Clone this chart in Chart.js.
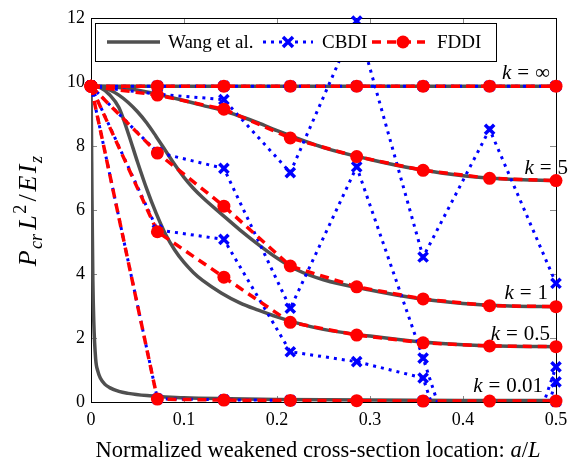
<!DOCTYPE html>
<html>
<head>
<meta charset="utf-8">
<script src="https://cdn.jsdelivr.net/npm/chart.js@4.4.0/dist/chart.umd.min.js"></script>
<style>
  html, body { margin: 0; padding: 0; background: #fff; }
  #wrap { width: 579px; height: 471px; }
</style>
</head>
<body>
<div id="wrap"><canvas id="chart" width="579" height="471"></canvas></div>
<script>
// weakened cross-section positions a/L used by the discrete models
const aL = [0, 0.0714, 0.1429, 0.2143, 0.2857, 0.3571, 0.4286, 0.5];

// FDDI buckling loads
const fddiInf = [9.87, 9.87, 9.87, 9.87, 9.87, 9.87, 9.87, 9.87];
const fddi5   = [9.87, 9.59, 9.15, 8.25, 7.67, 7.24, 6.99, 6.92];
const fddi1   = [9.87, 7.78, 6.12, 4.25, 3.60, 3.22, 3.01, 2.98];
const fddi05  = [9.87, 5.32, 3.90, 2.49, 2.09, 1.85, 1.75, 1.73];
const fddi001 = [9.87, 0.09, 0.06, 0.05, 0.04, 0.03, 0.03, 0.03];

// CBDI buckling loads (negative values fall below the axis)
const cbdiInf = [9.87, 9.87, 9.87, 9.87, 9.87, 9.87, 9.87, 9.87];
const cbdi5   = [9.87, 9.62, 9.45, 7.17, 11.9, 4.53, 8.52, 3.71];
const cbdi1   = [9.87, 7.80, 7.30, 2.93, 7.35, 1.37, -5.0, 1.10];
const cbdi05  = [9.87, 5.38, 5.08, 1.57, 1.26, 0.75, -5.5, 0.63];
const cbdi001 = [9.87, 0.10, 0.07, 0.05, -3.0, 0.03, -3.0, 0.02];

// Wang et al. closed-form curves
const wangXInf = [0, 0.5];
const wangInf  = [9.87, 9.87];
const wangX5 = [0, 0.02, 0.04, 0.06, 0.08, 0.1, 0.12, 0.14, 0.16, 0.18, 0.2, 0.25, 0.3, 0.35, 0.4, 0.45, 0.5];
const wang5  = [9.87, 9.85, 9.79, 9.69, 9.56, 9.42, 9.27, 9.12, 8.93, 8.72, 8.48, 7.95, 7.58, 7.28, 7.07, 6.96, 6.92];
const wangX1 = [0, 0.01, 0.02, 0.03, 0.04, 0.05, 0.06, 0.07, 0.08, 0.09, 0.1, 0.11, 0.12, 0.14, 0.16, 0.18, 0.2, 0.22, 0.25, 0.3, 0.35, 0.4, 0.45, 0.5];
const wang1  = [9.87, 9.84, 9.75, 9.59, 9.36, 9.07, 8.72, 8.30, 7.86, 7.42, 7.02, 6.68, 6.39, 5.88, 5.38, 4.92, 4.50, 4.15, 3.82, 3.50, 3.24, 3.08, 3.00, 2.98];
const wangX05 = [0, 0.01, 0.02, 0.03, 0.04, 0.05, 0.06, 0.07, 0.08, 0.09, 0.1, 0.11, 0.12, 0.14, 0.16, 0.18, 0.2, 0.22, 0.25, 0.3, 0.35, 0.4, 0.45, 0.5];
const wang05  = [9.87, 9.82, 9.60, 9.20, 8.40, 7.50, 6.65, 5.90, 5.25, 4.75, 4.36, 4.05, 3.80, 3.41, 3.10, 2.87, 2.66, 2.48, 2.27, 2.06, 1.89, 1.79, 1.74, 1.73];
const wangX001 = [0, 0.0005, 0.001, 0.002, 0.003, 0.005, 0.0075, 0.01, 0.015, 0.02, 0.03, 0.04, 0.06, 0.08, 0.1, 0.15, 0.2, 0.3, 0.4, 0.5];
const wang001  = [9.87, 8.5, 6.5, 3.8, 2.5, 1.35, 0.95, 0.75, 0.55, 0.45, 0.33, 0.27, 0.2, 0.16, 0.13, 0.10, 0.08, 0.06, 0.05, 0.05];

const xTicks = [0, 0.1, 0.2, 0.3, 0.4, 0.5];
const yTicks = [0, 2, 4, 6, 8, 10, 12];
const kNames = ["\u221E", "5", "1", "0.5", "0.01"];

const serif = '"Liberation Serif", "Times New Roman", serif';
const GRAY = "#505050", BLUE = "#0000ff", RED = "#ff0000";

const pts = (xs, ys) => xs.map((x, i) => ({ x: x, y: ys[i] }));
const inRange = (ctx) => {
  const v = ctx.raw && ctx.raw.y;
  return v != null && v >= 0 && v <= 12;
};

const datasets = [];
[[wangXInf, wangInf], [wangX5, wang5], [wangX1, wang1], [wangX05, wang05], [wangX001, wang001]]
  .forEach(([xs, ys]) => datasets.push({
    data: pts(xs, ys), borderColor: GRAY, borderWidth: 3.5, pointRadius: 0,
    cubicInterpolationMode: "monotone", order: 30
  }));
[cbdiInf, cbdi5, cbdi1, cbdi05, cbdi001].forEach((ys) => {
  datasets.push({
    data: pts(aL, ys), borderColor: BLUE, borderWidth: 3, borderDash: [3, 5],
    pointRadius: 0, tension: 0, order: 20
  });
  datasets.push({
    data: pts(aL, ys), showLine: false, pointStyle: "crossRot",
    pointRadius: (c) => (inRange(c) ? 6.5 : 0), pointBorderColor: BLUE,
    pointBackgroundColor: BLUE, pointBorderWidth: 3.5, clip: false, order: 5
  });
});
[fddiInf, fddi5, fddi1, fddi05, fddi001].forEach((ys) => {
  datasets.push({
    data: pts(aL, ys), borderColor: RED, borderWidth: 3.5, borderDash: [9, 6],
    pointRadius: 0, tension: 0, order: 10
  });
  datasets.push({
    data: pts(aL, ys), showLine: false, pointStyle: "circle",
    pointRadius: (c) => (inRange(c) ? 6.5 : 0), pointBorderWidth: 0,
    pointBackgroundColor: RED, pointBorderColor: RED, clip: false, order: 1
  });
});

// text made of roman / italic / sub / sup runs
function runFont(r, size) {
  const fs = r.pos ? size * 0.7 : size;
  return (r.it ? "italic " : "") + fs + "px " + serif;
}
function runsWidth(ctx, runs, size) {
  let w = 0;
  runs.forEach((r) => {
    ctx.font = runFont(r, size);
    w += ctx.measureText(r.t).width + (r.gap || 0) * size;
  });
  return w;
}
function drawRuns(ctx, runs, x, y, size, align) {
  const w = runsWidth(ctx, runs, size);
  let cx = align === "right" ? x - w : align === "center" ? x - w / 2 : x;
  ctx.textAlign = "left";
  ctx.textBaseline = "alphabetic";
  runs.forEach((r) => {
    ctx.font = runFont(r, size);
    const dy = r.pos === "sub" ? size * 0.22 : r.pos === "sup" ? -size * 0.4 : 0;
    ctx.fillText(r.t, cx, y + dy);
    cx += ctx.measureText(r.t).width + (r.gap || 0) * size;
  });
}

const frame = {
  id: "frame",
  beforeDatasetsDraw(chart) {
    const { ctx, chartArea: a, scales: { x, y } } = chart;
    ctx.save();
    ctx.strokeStyle = "#8a8a8a";
    ctx.lineWidth = 1;
    ctx.beginPath();
    xTicks.slice(1, -1).forEach((v) => {
      const px = Math.round(x.getPixelForValue(v)) + 0.5;
      ctx.moveTo(px, a.bottom); ctx.lineTo(px, a.bottom - 6);
      ctx.moveTo(px, a.top); ctx.lineTo(px, a.top + 6);
    });
    yTicks.slice(1, -1).forEach((v) => {
      const py = Math.round(y.getPixelForValue(v)) + 0.5;
      ctx.moveTo(a.left, py); ctx.lineTo(a.left + 6, py);
      ctx.moveTo(a.right, py); ctx.lineTo(a.right - 6, py);
    });
    ctx.stroke();
    ctx.strokeStyle = "#000";
    ctx.strokeRect(a.left + 0.5, a.top + 0.5, a.right - a.left, a.bottom - a.top);
    ctx.restore();
  },
  afterDatasetsDraw(chart) {
    const { ctx, scales: { y } } = chart;
    ctx.save();
    ctx.fillStyle = "#000";

    // curve labels
    const kPos = [[550, 10.3], [568, 7.35], [548, 3.45], [550, 2.15], [543, 0.52]];
    kNames.forEach((n, i) => {
      const [rx, v] = kPos[i];
      drawRuns(ctx, [{ t: "k", it: true, gap: 0.28 }, { t: "=", gap: 0.28 }, { t: n }],
        rx, y.getPixelForValue(v) + 7, 21, "right");
    });

    // legend
    ctx.fillStyle = "#fff";
    ctx.fillRect(95, 23, 401, 38);
    ctx.strokeStyle = "#000";
    ctx.lineWidth = 1;
    ctx.strokeRect(95.5, 23.5, 401, 38);
    const ly = 42;
    ctx.lineWidth = 3.5;
    ctx.strokeStyle = GRAY;
    ctx.beginPath(); ctx.moveTo(107, ly); ctx.lineTo(160, ly); ctx.stroke();
    ctx.strokeStyle = BLUE; ctx.lineWidth = 3;
    ctx.setLineDash([3, 5]);
    ctx.beginPath(); ctx.moveTo(263, ly); ctx.lineTo(313, ly); ctx.stroke();
    ctx.setLineDash([]);
    ctx.lineWidth = 3.5;
    const r = 5;
    ctx.beginPath();
    ctx.moveTo(288 - r, ly - r); ctx.lineTo(288 + r, ly + r);
    ctx.moveTo(288 - r, ly + r); ctx.lineTo(288 + r, ly - r);
    ctx.stroke();
    ctx.strokeStyle = RED; ctx.lineWidth = 3.5;
    ctx.setLineDash([9, 6]);
    ctx.beginPath(); ctx.moveTo(372, ly); ctx.lineTo(425, ly); ctx.stroke();
    ctx.setLineDash([]);
    ctx.fillStyle = RED;
    ctx.beginPath(); ctx.arc(403, ly, 6.5, 0, Math.PI * 2); ctx.fill();
    ctx.fillStyle = "#000";
    drawRuns(ctx, [{ t: "Wang et al." }], 168, 48, 19, "left");
    drawRuns(ctx, [{ t: "CBDI" }], 322, 48, 19, "left");
    drawRuns(ctx, [{ t: "FDDI" }], 437, 48, 19, "left");

    // axis titles
    drawRuns(ctx, [{ t: "Normalized weakened cross-section location: " },
      { t: "a", it: true }, { t: "/" }, { t: "L", it: true }], 318, 457, 22.5, "center");
    ctx.translate(36, 211);
    ctx.rotate(-Math.PI / 2);
    drawRuns(ctx, [
      { t: "P", it: true, gap: 0.05 }, { t: "cr", it: true, pos: "sub", gap: 0.16 },
      { t: "L", it: true, gap: 0.06 }, { t: "2", pos: "sup", gap: 0.12 },
      { t: "/", gap: 0.1 }, { t: "E", it: true, gap: 0.1 },
      { t: "I", it: true, gap: 0.06 }, { t: "z", it: true, pos: "sub" }
    ], 0, 0, 26, "center");
    ctx.restore();
  }
};

new Chart(document.getElementById("chart"), {
  type: "line",
  data: { datasets: datasets },
  options: {
    responsive: false,
    animation: false,
    devicePixelRatio: 1,
    layout: { padding: { left: 0, right: 23, top: 18, bottom: 0 } },
    plugins: { legend: { display: false }, tooltip: { enabled: false } },
    scales: {
      x: {
        type: "linear", min: 0, max: 0.5,
        afterFit: (s) => { s.height = 69; },
        afterBuildTicks: (s) => { s.ticks = xTicks.map((v) => ({ value: v })); },
        grid: { display: false, drawTicks: false },
        border: { display: false },
        ticks: {
          padding: 7, color: "#000", font: { family: serif, size: 18 },
          maxRotation: 0,
          callback: (v) => (v === 0 ? "0" : v.toFixed(1))
        }
      },
      y: {
        min: 0, max: 12,
        afterFit: (s) => { s.width = 91; },
        afterBuildTicks: (s) => { s.ticks = yTicks.map((v) => ({ value: v })); },
        grid: { display: false, drawTicks: false },
        border: { display: false },
        ticks: {
          padding: 6, color: "#000", font: { family: serif, size: 18 },
          callback: (v) => String(v)
        }
      }
    }
  },
  plugins: [frame]
});
</script>
</body>
</html>
